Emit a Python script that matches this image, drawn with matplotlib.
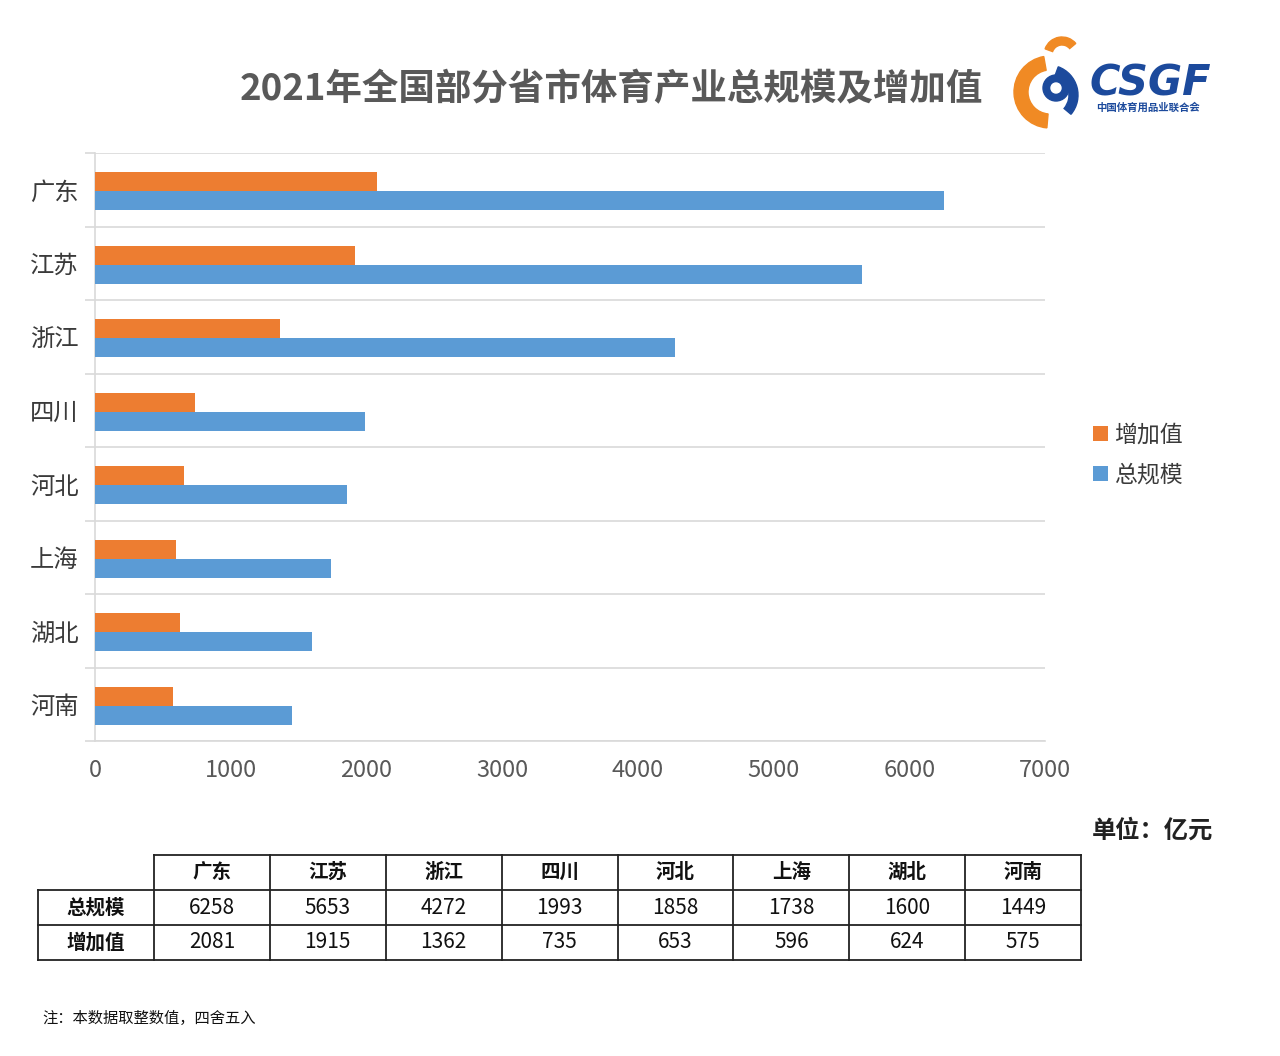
import matplotlib
matplotlib.use("Agg")
import matplotlib.pyplot as plt
from matplotlib.patches import Wedge, Rectangle, Circle
import numpy as np

plt.rcParams['font.family'] = ['Noto Sans CJK SC', 'DejaVu Sans']

categories = ['广东', '江苏', '浙江', '四川', '河北', '上海', '湖北', '河南']
total_scale = [6258, 5653, 4272, 1993, 1858, 1738, 1600, 1449]
added_value = [2081, 1915, 1362, 735, 653, 596, 624, 575]
series_names = ['增加值', '总规模']
x_ticks = [0, 1000, 2000, 3000, 4000, 5000, 6000, 7000]
title = '2021年全国部分省市体育产业总规模及增加值'
unit_text = '单位：亿元'
note_text = '注：本数据取整数值，四舍五入'
row_labels = ['总规模', '增加值']

ORANGE = '#ED7D31'
BLUE = '#5B9BD5'
GRID = '#D9D9D9'
TXT = '#595959'

W, H = 1280, 1056
fig = plt.figure(figsize=(W / 100, H / 100), dpi=100)
fig.patch.set_facecolor('white')

# main bar axes
left, right, top, bottom = 95, 1045, 153, 741
ax = fig.add_axes([left / W, (H - bottom) / H, (right - left) / W, (bottom - top) / H])
n = len(categories)
pos = np.arange(n) + 0.52
bh = 0.26
ax.barh(pos - bh / 2, added_value, height=bh, color=ORANGE, label=series_names[0], zorder=3)
ax.barh(pos + bh / 2, total_scale, height=bh, color=BLUE, label=series_names[1], zorder=3)
ax.set_ylim(n, 0)
ax.set_xlim(x_ticks[0], x_ticks[-1])
ax.set_xticks(x_ticks)
ax.set_xticklabels([str(t) for t in x_ticks], fontsize=17, color=TXT)
ax.tick_params(axis='x', length=0, pad=13)
ax.set_yticks(np.arange(n) + 0.5)
ax.set_yticklabels(categories, fontsize=17.5, color='#3A3A3A')
ax.tick_params(axis='y', which='major', length=0, pad=12)
ax.set_yticks(np.arange(n + 1), minor=True)
ax.tick_params(axis='y', which='minor', length=7, color=GRID, width=1.2)
ax.grid(axis='y', which='minor', color=GRID, linewidth=1.2, zorder=0)
ax.grid(axis='y', which='major', visible=False)
for s in ['top', 'right']:
    ax.spines[s].set_visible(False)
ax.spines['left'].set_color(GRID)
ax.spines['left'].set_linewidth(1.2)
ax.spines['bottom'].set_color(GRID)
ax.spines['bottom'].set_linewidth(1.2)

# legend
leg = ax.legend(loc='center left', bbox_to_anchor=((1093 - left) / (right - left), 1 - (455 - top) / (bottom - top)),
                frameon=False, fontsize=16.5, handlelength=0.65, handleheight=0.65, handletextpad=0.25,
                labelspacing=0.75, borderaxespad=0, borderpad=0)
for t in leg.get_texts():
    t.set_color('#3A3A3A')

# overlay axes in pixel coordinates
ov = fig.add_axes([0, 0, 1, 1])
ov.set_xlim(0, W)
ov.set_ylim(H, 0)
ov.axis('off')
ov.patch.set_alpha(0)

ov.text(611, 90, title, fontsize=26.3, fontweight='bold', color='#595959', ha='center', va='center')
ov.text(1213, 831, unit_text, fontsize=17.5, fontweight='bold', color='#222222', ha='right', va='center')
ov.text(42, 1018, note_text, fontsize=11, color='#111111', ha='left', va='center')

# table
tx0, tc0 = 38, 154
cw = (1081 - 154) / n
ty = [855, 890, 925, 960]
lw = 1.3
lc = '#222222'
xr = 1081
ov.plot([tc0, xr], [ty[0], ty[0]], color=lc, lw=lw)
for yy in ty[1:]:
    ov.plot([tx0, xr], [yy, yy], color=lc, lw=lw)
ov.plot([tx0, tx0], [ty[1], ty[3]], color=lc, lw=lw)
for j in range(n + 1):
    xx = tc0 + j * cw
    ov.plot([xx, xx], [ty[0], ty[3]], color=lc, lw=lw)
for j, c in enumerate(categories):
    ov.text(tc0 + (j + 0.5) * cw, (ty[0] + ty[1]) / 2, c, fontsize=14, fontweight='bold',
            ha='center', va='center', color='#111111')
rows = [total_scale, added_value]
for r, (lab, vals) in enumerate(zip(row_labels, rows)):
    yc = (ty[r + 1] + ty[r + 2]) / 2
    ov.text((tx0 + tc0) / 2, yc, lab, fontsize=14, fontweight='bold', ha='center', va='center', color='#111111')
    for j, v in enumerate(vals):
        ov.text(tc0 + (j + 0.5) * cw, yc, str(v), fontsize=15, ha='center', va='center', color='#111111')

# logo (approximate)
ov.add_patch(Wedge((1050, 92), 36, 95, 260, width=14, color='#F08A24'))
ov.add_patch(Wedge((1062, 55), 18, 200, 320, width=8, color='#F08A24'))
ov.add_patch(Circle((1056, 88), 13, color='#1C4A9C'))
ov.add_patch(Circle((1056, 88), 5, color='white'))
ov.add_patch(Wedge((1048, 95), 30, 290, 40, width=9, color='#1C4A9C'))
ov.text(1150, 83, 'CSGF', fontsize=30, fontweight='heavy', fontstyle='italic', color='#1C4A9C',
        ha='center', va='center', family=['DejaVu Sans'])
ov.text(1148, 108, '中国体育用品业联合会', fontsize=7.5, fontweight='bold', color='#1C4A9C', ha='center', va='center')

fig.savefig('out.png', dpi=100, facecolor='white')
